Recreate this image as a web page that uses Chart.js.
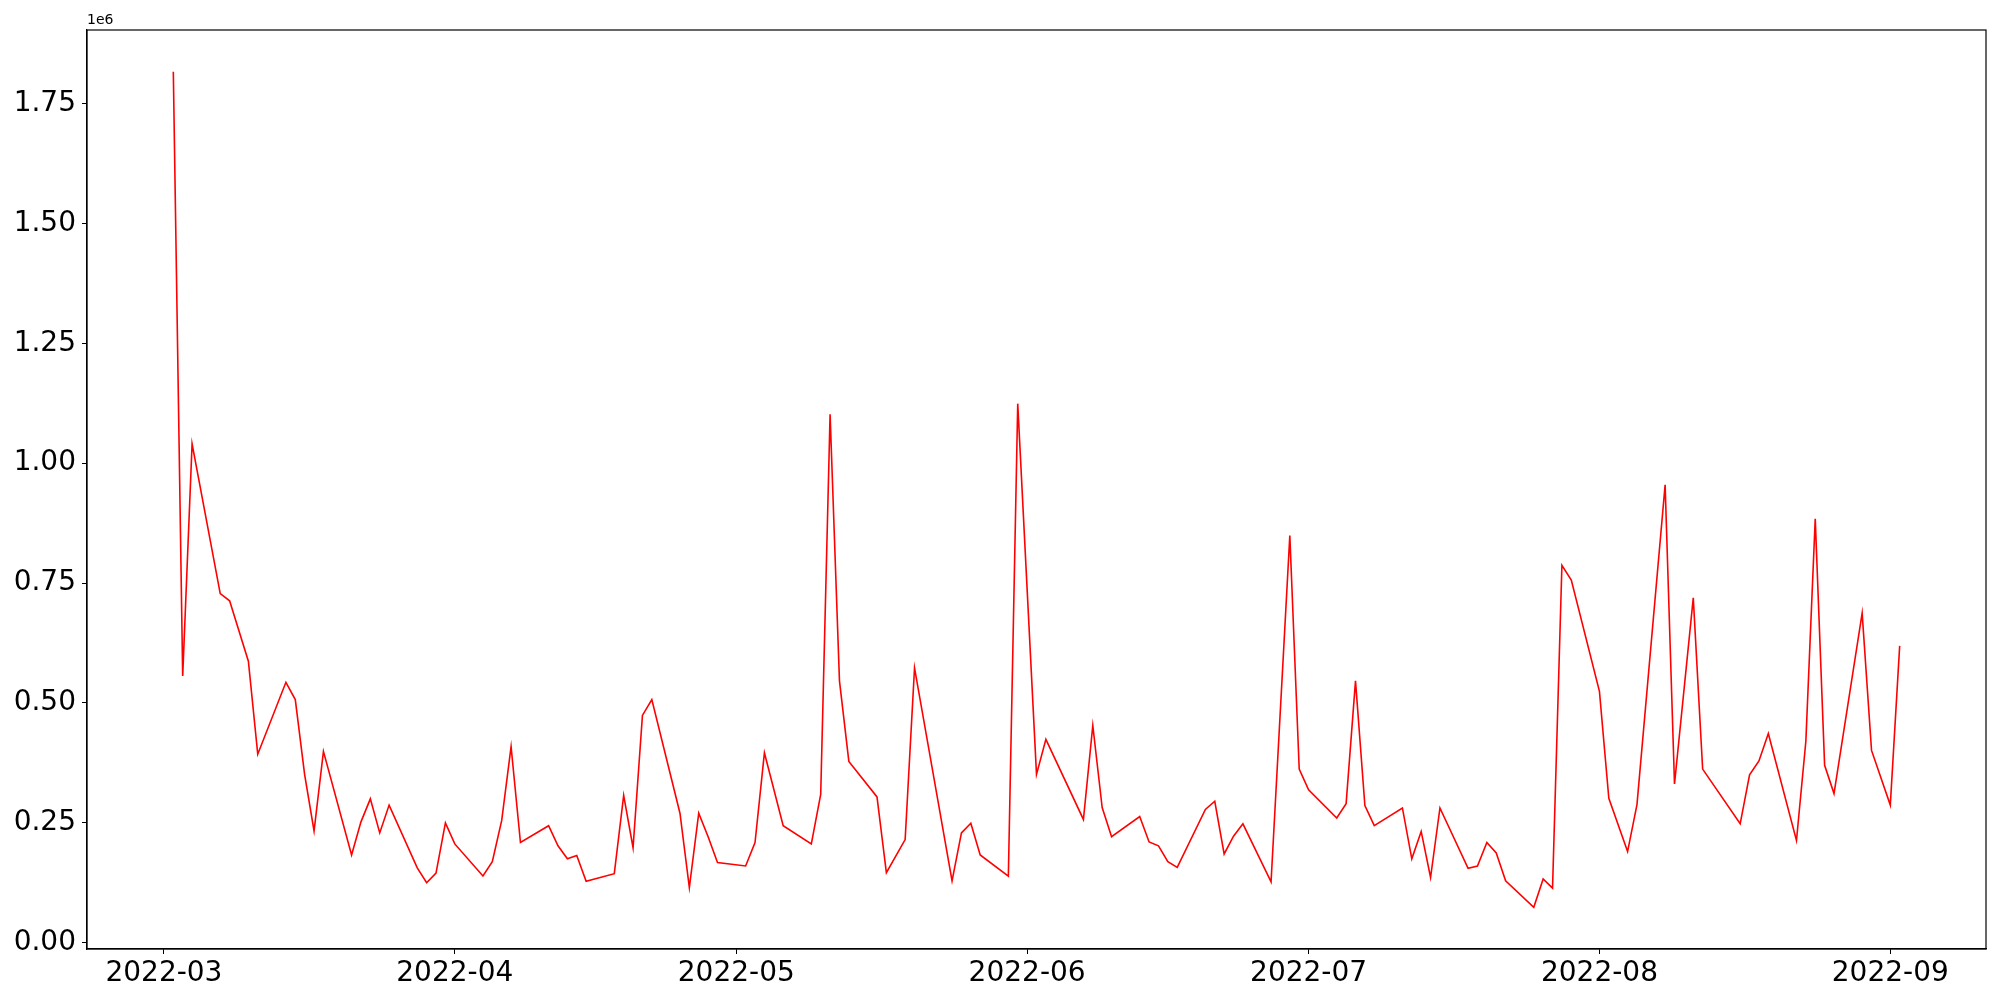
<!DOCTYPE html>
<html>
<head>
<meta charset="utf-8">
<script src="https://cdn.jsdelivr.net/npm/chart.js@4/dist/chart.umd.min.js"></script>
<style>
  html, body { margin: 0; padding: 0; background: #fff; }
  canvas { display: block; }
</style>
</head>
<body>
<canvas id="myChart" width="2000" height="1000"></canvas>
<script>
// datos
const fechas = [
  '2022-03-02','2022-03-03','2022-03-04','2022-03-07','2022-03-08','2022-03-10','2022-03-11',
  '2022-03-14','2022-03-15','2022-03-16','2022-03-17','2022-03-18','2022-03-21','2022-03-22',
  '2022-03-23','2022-03-24','2022-03-25','2022-03-28','2022-03-29','2022-03-30','2022-03-31',
  '2022-04-01','2022-04-04','2022-04-05','2022-04-06','2022-04-07','2022-04-08','2022-04-11',
  '2022-04-12','2022-04-13','2022-04-14','2022-04-15','2022-04-18','2022-04-19','2022-04-20',
  '2022-04-21','2022-04-22','2022-04-25','2022-04-26','2022-04-27','2022-04-28','2022-04-29',
  '2022-05-02','2022-05-03','2022-05-04','2022-05-06','2022-05-09','2022-05-10','2022-05-11',
  '2022-05-12','2022-05-13','2022-05-16','2022-05-17','2022-05-19','2022-05-20','2022-05-24',
  '2022-05-25','2022-05-26','2022-05-27','2022-05-30','2022-05-31','2022-06-02','2022-06-03',
  '2022-06-07','2022-06-08','2022-06-09','2022-06-10','2022-06-13','2022-06-14','2022-06-15',
  '2022-06-16','2022-06-17','2022-06-20','2022-06-21','2022-06-22','2022-06-23','2022-06-24',
  '2022-06-27','2022-06-29','2022-06-30','2022-07-01','2022-07-04','2022-07-05','2022-07-06',
  '2022-07-07','2022-07-08','2022-07-11','2022-07-12','2022-07-13','2022-07-14','2022-07-15',
  '2022-07-18','2022-07-19','2022-07-20','2022-07-21','2022-07-22','2022-07-25','2022-07-26',
  '2022-07-27','2022-07-28','2022-07-29','2022-08-01','2022-08-02','2022-08-04','2022-08-05',
  '2022-08-08','2022-08-09','2022-08-11','2022-08-12','2022-08-16','2022-08-17','2022-08-18',
  '2022-08-19','2022-08-22','2022-08-23','2022-08-24','2022-08-25','2022-08-26','2022-08-29',
  '2022-08-30','2022-09-01','2022-09-02'
];

const valores = [
  1816000, 556000, 1040000, 728000, 713000, 587000, 393000,
  543000, 507000, 350000, 233000, 399000, 183000, 252000,
  300000, 229000, 287000, 156000, 125000, 145000, 250000,
  206000, 139000, 169000, 255000, 409000, 209000, 244000,
  202000, 175000, 182000, 128000, 144000, 307000, 198000,
  474000, 507000, 270000, 115000, 270000, 221000, 167000,
  160000, 209000, 396000, 244000, 206000, 309000, 1102000,
  546000, 378000, 304000, 146000, 215000, 573000, 129000,
  229000, 249000, 183000, 139000, 1124000, 351000, 424000,
  257000, 453000, 282000, 221000, 263000, 210000, 202000,
  169000, 157000, 278000, 295000, 185000, 222000, 248000,
  127000, 849000, 362000, 319000, 260000, 290000, 546000,
  286000, 244000, 281000, 175000, 232000, 136000, 281000,
  155000, 160000, 209000, 187000, 129000, 74000, 133000,
  114000, 787000, 756000, 524000, 301000, 190000, 288000,
  955000, 331000, 719000, 362000, 248000, 350000, 379000,
  436000, 213000, 420000, 884000, 370000, 311000, 687000,
  401000, 287000, 619000
];

const mesesTicks = ['2022-03','2022-04','2022-05','2022-06','2022-07','2022-08','2022-09'];
const ticksY = [0, 250000, 500000, 750000, 1000000, 1250000, 1500000, 1750000];

// convierte fecha a numero de dias desde el 2022-03-01
const base = Date.parse('2022-03-01');
function dia(f) {
  return (Date.parse(f) - base) / 86400000;
}
function etiquetaMes(d) {
  return new Date(base + d * 86400000).toISOString().slice(0, 7);
}

let puntos = fechas.map((f, i) => ({ x: dia(f), y: valores[i] }));

// margenes del 5% como matplotlib
let xs = puntos.map(p => p.x);
let xMin = Math.min(...xs), xMax = Math.max(...xs);
let xPad = (xMax - xMin) * 0.05;
let yMin = Math.min(...valores), yMax = Math.max(...valores);
let yPad = (yMax - yMin) * 0.05;

const fuente = { family: 'DejaVu Sans', size: 28 };

// marco completo y el texto 1e6
const marco = {
  id: 'marco',
  afterDraw(chart) {
    let ctx = chart.ctx;
    let a = chart.chartArea;
    ctx.save();
    ctx.strokeStyle = '#000';
    ctx.lineWidth = 1.2;
    ctx.strokeRect(a.left, a.top, a.right - a.left, a.bottom - a.top);
    ctx.fillStyle = '#000';
    ctx.font = '14px "DejaVu Sans"';
    ctx.textAlign = 'left';
    ctx.textBaseline = 'bottom';
    ctx.fillText('1e6', a.left, a.top - 3);
    ctx.restore();
  }
};

let ctx = document.getElementById('myChart').getContext('2d');

let miGrafico = new Chart(ctx, {
  type: 'line',
  data: {
    datasets: [{
      data: puntos,
      borderColor: '#ff0000',
      borderWidth: 1.6,
      pointRadius: 0,
      fill: false,
      tension: 0
    }]
  },
  options: {
    responsive: false,
    animation: false,
    devicePixelRatio: 1,
    layout: { padding: { left: 0, right: 14, top: 30, bottom: 0 } },
    plugins: { legend: { display: false }, tooltip: { enabled: false } },
    scales: {
      x: {
        type: 'linear',
        min: xMin - xPad,
        max: xMax + xPad,
        afterBuildTicks: scale => {
          scale.ticks = mesesTicks.map(m => ({ value: dia(m + '-01') }));
        },
        afterFit: scale => { scale.height = 51; },
        grid: { display: true, drawOnChartArea: false, drawTicks: true, tickLength: 5, color: '#000', lineWidth: 1 },
        border: { display: true, color: '#000', width: 1.2 },
        ticks: {
          autoSkip: false,
          maxRotation: 0,
          padding: 3,
          color: '#000',
          font: fuente,
          callback: v => etiquetaMes(v)
        }
      },
      y: {
        type: 'linear',
        min: yMin - yPad,
        max: yMax + yPad,
        afterBuildTicks: scale => {
          scale.ticks = ticksY.map(v => ({ value: v }));
        },
        afterFit: scale => { scale.width = 87; },
        grid: { display: true, drawOnChartArea: false, drawTicks: true, tickLength: 5, color: '#000', lineWidth: 1 },
        border: { display: true, color: '#000', width: 1.2 },
        ticks: {
          autoSkip: false,
          padding: 6,
          color: '#000',
          font: fuente,
          callback: v => (v / 1e6).toFixed(2)
        }
      }
    }
  },
  plugins: [marco]
});
</script>
</body>
</html>
